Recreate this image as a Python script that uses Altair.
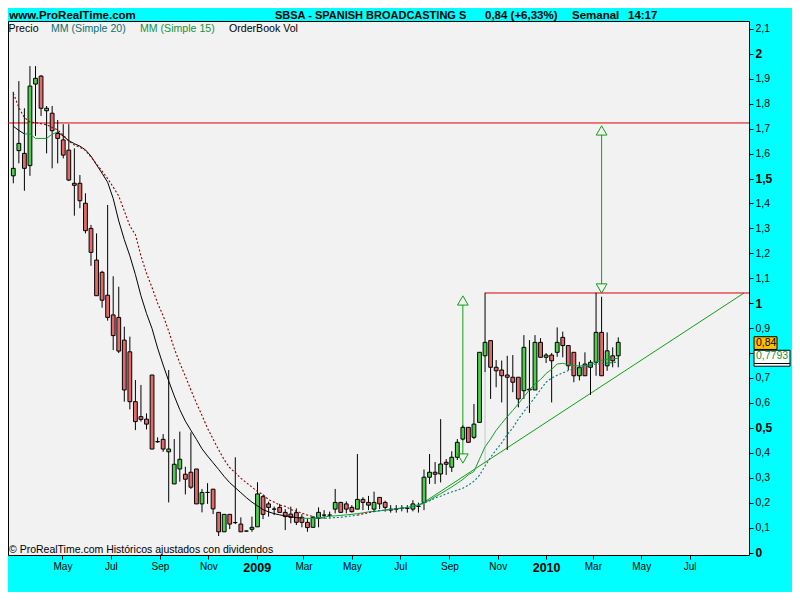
import altair as alt
import pandas as pd

FONT = "Liberation Sans"
W, H = 741, 534

# ---------------------------------------------------------------- data
first_week = "2008-02-29"   # weekly candles (one per week)

opens = [1.511, 1.612, 1.601, 1.552, 1.879, 1.911, 1.772, 1.762, 1.681, 1.655,
         1.614, 1.481, 1.481, 1.401, 1.300, 1.173, 1.124, 1.032, 0.953, 0.943,
         0.852, 0.805, 0.605, 0.545, 0.535, 0.712, 0.445, 0.454, 0.404, 0.275,
         0.335, 0.314, 0.322, 0.335, 0.195, 0.241, 0.254, 0.161, 0.083, 0.153,
         0.120, 0.114, 0.086, 0.093, 0.103, 0.224, 0.195, 0.174, 0.181, 0.161,
         0.154, 0.160, 0.141, 0.121, 0.101, 0.137, 0.150, 0.150, 0.174, 0.201,
         0.195, 0.181, 0.174, 0.213, 0.201, 0.174, 0.221, 0.201, 0.174, 0.174,
         0.177, 0.177, 0.174, 0.185, 0.201, 0.302, 0.322, 0.315, 0.362, 0.342,
         0.382, 0.455, 0.502, 0.462, 0.522, 0.789, 0.850, 0.743, 0.732, 0.712,
         0.703, 0.703, 0.649, 0.652, 0.652, 0.843, 0.783, 0.792, 0.803, 0.863,
         0.830, 0.803, 0.709, 0.756, 0.743, 0.763, 0.883, 0.749, 0.789, 0.789]
highs = [1.848, 1.891, 1.782, 1.951, 1.951, 1.915, 1.791, 1.791, 1.735, 1.718,
         1.718, 1.621, 1.514, 1.441, 1.314, 1.280, 1.130, 1.394, 1.108, 1.066,
         0.906, 0.866, 0.692, 0.672, 0.558, 0.712, 0.462, 0.475, 0.732, 0.455,
         0.485, 0.344, 0.482, 0.335, 0.255, 0.278, 0.254, 0.161, 0.153, 0.153,
         0.382, 0.141, 0.088, 0.144, 0.282, 0.231, 0.204, 0.184, 0.195, 0.174,
         0.184, 0.177, 0.154, 0.137, 0.147, 0.181, 0.170, 0.164, 0.255, 0.203,
         0.205, 0.190, 0.395, 0.222, 0.227, 0.244, 0.221, 0.208, 0.190, 0.190,
         0.190, 0.190, 0.210, 0.200, 0.333, 0.395, 0.363, 0.535, 0.375, 0.406,
         0.455, 0.510, 0.502, 0.596, 0.803, 1.042, 0.850, 0.772, 0.770, 0.789,
         0.792, 0.703, 0.872, 0.852, 0.872, 0.860, 0.800, 0.800, 0.903, 0.886,
         0.830, 0.803, 0.765, 0.803, 0.772, 1.042, 1.026, 0.883, 0.823, 0.863]
lows = [1.481, 1.561, 1.451, 1.511, 1.671, 1.751, 1.601, 1.541, 1.561, 1.581,
        1.490, 1.351, 1.381, 1.280, 1.150, 1.030, 0.982, 0.930, 0.812, 0.800,
        0.605, 0.574, 0.491, 0.525, 0.494, 0.415, 0.440, 0.404, 0.201, 0.275,
        0.284, 0.233, 0.255, 0.195, 0.161, 0.195, 0.154, 0.066, 0.083, 0.094,
        0.114, 0.083, 0.086, 0.083, 0.103, 0.134, 0.144, 0.150, 0.161, 0.090,
        0.117, 0.110, 0.101, 0.083, 0.101, 0.101, 0.135, 0.140, 0.157, 0.161,
        0.157, 0.160, 0.174, 0.170, 0.170, 0.164, 0.174, 0.164, 0.160, 0.160,
        0.165, 0.160, 0.165, 0.160, 0.170, 0.275, 0.275, 0.281, 0.311, 0.323,
        0.371, 0.450, 0.442, 0.455, 0.522, 0.723, 0.616, 0.663, 0.602, 0.411,
        0.643, 0.582, 0.616, 0.560, 0.652, 0.783, 0.760, 0.602, 0.785, 0.783,
        0.732, 0.683, 0.690, 0.709, 0.632, 0.709, 0.709, 0.729, 0.743, 0.743]
closes = [1.541, 1.641, 1.541, 1.871, 1.902, 1.782, 1.782, 1.692, 1.661, 1.594,
          1.494, 1.473, 1.411, 1.291, 1.204, 1.030, 1.012, 0.943, 0.870, 0.808,
          0.652, 0.605, 0.525, 0.534, 0.515, 0.415, 0.444, 0.415, 0.415, 0.354,
          0.374, 0.294, 0.262, 0.195, 0.241, 0.241, 0.175, 0.083, 0.153, 0.114,
          0.120, 0.083, 0.086, 0.101, 0.235, 0.153, 0.181, 0.174, 0.161, 0.144,
          0.141, 0.121, 0.121, 0.100, 0.141, 0.161, 0.150, 0.150, 0.201, 0.161,
          0.174, 0.164, 0.213, 0.201, 0.190, 0.201, 0.195, 0.181, 0.170, 0.174,
          0.177, 0.177, 0.195, 0.185, 0.302, 0.322, 0.314, 0.355, 0.354, 0.382,
          0.442, 0.502, 0.442, 0.515, 0.803, 0.843, 0.743, 0.729, 0.709, 0.703,
          0.683, 0.616, 0.823, 0.655, 0.843, 0.783, 0.792, 0.769, 0.843, 0.830,
          0.749, 0.709, 0.743, 0.709, 0.763, 0.883, 0.709, 0.809, 0.769, 0.843]

ma15 = [1.710, 1.693, 1.679, 1.679, 1.661, 1.661, 1.661, 1.678, 1.687, 1.670,
        1.652, 1.640, 1.630, 1.615, 1.590, 1.555, 1.521, 1.485, 1.420, 1.330,
        1.255, 1.190, 1.115, 1.030, 0.959, 0.898, 0.820, 0.752, 0.688, 0.628,
        0.573, 0.527, 0.490, 0.454, 0.416, 0.387, 0.360, 0.333, 0.305, 0.280,
        0.260, 0.240, 0.220, 0.202, 0.187, 0.172, 0.163, 0.156, 0.151, 0.147,
        0.143, 0.140, 0.138, 0.137, 0.137, 0.139, 0.142, 0.146, 0.147, 0.149,
        0.151, 0.153, 0.156, 0.159, 0.163, 0.165, 0.167, 0.170, 0.173, 0.175,
        0.178, 0.181, 0.185, 0.192, 0.200, 0.210, 0.224, 0.236, 0.249, 0.263,
        0.278, 0.293, 0.312, 0.325, 0.375, 0.424, 0.455, 0.490, 0.518, 0.545,
        0.570, 0.596, 0.625, 0.652, 0.676, 0.694, 0.718, 0.735, 0.756, 0.759,
        0.753, 0.750, 0.748, 0.750, 0.752, 0.765, 0.771, 0.775, 0.777, 0.779]
ma20 = [1.842, 1.785, 1.745, 1.727, 1.724, 1.720, 1.716, 1.705, 1.695, 1.675,
        1.650, 1.635, 1.625, 1.613, 1.587, 1.558, 1.530, 1.500, 1.466, 1.430,
        1.370, 1.310, 1.275, 1.190, 1.120, 1.063, 1.000, 0.950, 0.888, 0.818,
        0.760, 0.707, 0.652, 0.599, 0.550, 0.498, 0.455, 0.412, 0.372, 0.340,
        0.320, 0.298, 0.280, 0.262, 0.245, 0.232, 0.212, 0.202, 0.190, 0.185,
        0.173, 0.165, 0.158, 0.150, 0.144, 0.140, 0.137, 0.138, 0.140, 0.141,
        0.144, 0.147, 0.150, 0.155, 0.160, 0.164, 0.168, 0.170, 0.173, 0.176,
        0.178, 0.181, 0.184, 0.190, 0.198, 0.207, 0.219, 0.226, 0.235, 0.243,
        0.250, 0.258, 0.270, 0.286, 0.310, 0.347, 0.382, 0.412, 0.440, 0.473,
        0.500, 0.535, 0.565, 0.594, 0.623, 0.654, 0.683, 0.700, 0.711, 0.720,
        0.730, 0.736, 0.740, 0.745, 0.750, 0.756, 0.757, 0.759, 0.762, 0.765]

# price above (up) / below (dn) the average -> colour of the average
ma15_segments = [(0, 2, "15dn"), (2, 8, "15up"), (8, 52, "15dn"), (52, 109, "15up")]
ma20_segments = [(0, 54, "20dn"), (54, 62, "20up"), (62, 65, "20dn"), (65, 109, "20up")]

resistance_full = [1.723]
resistance_part = [1.041]
resistance_part_start = [85]          # candle index
trend_start_idx = [73]
trend_values = [0.187, 1.041]
trend_end = ["2010-09-07T14:24:00Z"]
marker_idx = [85]
marker_range = [0.351, 0.720]
arrow_idx = [81, 106]
arrow_low = [0.359, 1.041]
arrow_high = [1.029, 1.711]

tick_months = [(2008, 5), (2008, 7), (2008, 9), (2008, 11), (2009, 1), (2009, 3),
               (2009, 5), (2009, 7), (2009, 9), (2009, 11), (2010, 1), (2010, 3),
               (2010, 5), (2010, 7)]
y_ticks = [round(0.1 * k, 1) for k in range(22)]

title_left = "www.ProRealTime.com"
title_parts = ["SBSA - SPANISH BROADCASTING S", "0,84 (+6,33%)", "Semanal", "14:17"]
legend_items = ["Precio", "MM (Simple 20)", "MM (Simple 15)", "OrderBook Vol"]
footer_text = "© ProRealTime.com  Históricos ajustados con dividendos"
tag_values = [0.84, 0.7793]
tag_texts = ["0,84", "0,7793"]

# ---------------------------------------------------------------- frames
dates = [(pd.Timestamp(first_week) + pd.Timedelta(days=7 * i)).strftime("%Y-%m-%d")
         for i in range(len(opens))]
candles = pd.DataFrame({"date": dates, "open": opens, "high": highs,
                        "low": lows, "close": closes})
candles["dir"] = ["up" if c >= o else "down" for o, c in zip(opens, closes)]

ma_rows = []
for series, segs in ((ma15, ma15_segments), (ma20, ma20_segments)):
    for k, (a, b, state) in enumerate(segs):
        for i in range(a, b + 1):
            ma_rows.append({"date": dates[i], "v": series[i],
                            "seg": f"{state}_{k}", "state": state})
ma_df = pd.DataFrame(ma_rows)
ma15_df = ma_df[ma_df.state.str.startswith("15")]
ma20_df = ma_df[ma_df.state.str.startswith("20")]

TRI = 0.018   # half height of arrow heads (value units)
arrows = pd.DataFrame({"date": [dates[i] for i in arrow_idx],
                       "lo": arrow_low, "hi": arrow_high})
arrows["lo_base"] = arrows.lo + 2 * TRI
arrows["hi_base"] = arrows.hi - 2 * TRI
arrows["lo_c"] = arrows.lo + TRI
arrows["hi_c"] = arrows.hi - TRI

# ---------------------------------------------------------------- scales / axes
xscale = alt.Scale(type="utc", domain=[
    alt.DateTime(year=2008, month=2, date=28, hours=15, utc=True),
    alt.DateTime(year=2010, month=9, date=7, hours=14, minutes=24, utc=True)])
yscale = alt.Scale(domain=[-0.010, 2.132], nice=False, zero=False)

BOLD_Y = "abs(datum.value*2 - round(datum.value*2)) < 0.01"
xaxis = alt.Axis(
    values=[alt.DateTime(year=y, month=m, date=1, utc=True) for y, m in tick_months],
    labelExpr="utcmonth(datum.value) == 0 ? utcFormat(datum.value, '%Y') : utcFormat(datum.value, '%b')",
    labelFont=FONT, labelColor="black",
    labelFontSize={"condition": {"test": "utcmonth(datum.value) == 0", "value": 12.5}, "value": 10},
    labelFontWeight={"condition": {"test": "utcmonth(datum.value) == 0", "value": "bold"}, "value": "normal"},
    tickSize=4, tickColor="black", tickWidth=1, labelPadding=2, domain=False, grid=False,
    title=None, labelFlush=False, labelOverlap=False)
yaxis = alt.Axis(
    orient="right", values=y_ticks,
    labelExpr="abs(datum.value - 0.8) < 0.001 ? '' : replace(format(datum.value, '.1~f'), '.', ',')",
    labelFont=FONT, labelColor="black",
    labelFontSize={"condition": {"test": BOLD_Y, "value": 12}, "value": 10.5},
    labelFontWeight={"condition": {"test": BOLD_Y, "value": "bold"}, "value": "normal"},
    tickSize=4, tickColor="black", tickWidth=1, labelPadding=2, domain=False, grid=False,
    title=None, labelOverlap=False, labelFlush=False)


def X(field="date"):
    return alt.X(f"{field}:T", scale=xscale, axis=xaxis, title=None)


def Y(field):
    return alt.Y(f"{field}:Q", scale=yscale, axis=yaxis, title=None)


GREEN_ARROW = "#12a012"
RED_LINE = "#dd0000"

# ---------------------------------------------------------------- layers
marker = alt.Chart(pd.DataFrame({"date": [dates[i] for i in marker_idx],
                                 "a": [marker_range[0]], "b": [marker_range[1]]})).mark_rule(
    color="#c8c8c8", strokeWidth=1).encode(x=X(), y=Y("a"), y2="b:Q")

trend = alt.Chart(pd.DataFrame({"date": [dates[trend_start_idx[0]], trend_end[0]],
                                "v": trend_values})).mark_line(
    color="#10a010", strokeWidth=1).encode(x=X(), y=Y("v"))

res_full = alt.Chart(pd.DataFrame({"v": resistance_full})).mark_rule(
    color=RED_LINE, strokeWidth=1).encode(y=Y("v"))
res_part = alt.Chart(pd.DataFrame({"date": [dates[i] for i in resistance_part_start],
                                   "v": resistance_part})).mark_rule(
    color=RED_LINE, strokeWidth=1).encode(x=X(), x2=alt.value(W), y=Y("v"))

arrow_lines = alt.Chart(arrows).mark_rule(color=GREEN_ARROW, strokeWidth=1).encode(
    x=X(), y=Y("lo_base"), y2="hi_base:Q")
arrow_up = alt.Chart(arrows).mark_point(shape="triangle-up", size=115, filled=False,
                                        color=GREEN_ARROW, strokeWidth=1, opacity=1).encode(
    x=X(), y=Y("hi_c"))
arrow_dn = alt.Chart(arrows).mark_point(shape="triangle-down", size=115, filled=False,
                                        color=GREEN_ARROW, strokeWidth=1, opacity=1).encode(
    x=X(), y=Y("lo_c"))

wicks = alt.Chart(candles).mark_rule(color="black", strokeWidth=1).encode(
    x=X(), y=Y("low"), y2="high:Q")
bodies = alt.Chart(candles).mark_bar(size=3.8, stroke="black", strokeWidth=1).encode(
    x=X(), y=Y("open"), y2="close:Q",
    fill=alt.Fill("dir:N", scale=alt.Scale(domain=["up", "down"],
                                           range=["#4dcc4d", "#e06a6a"]), legend=None))

ma_scale = alt.Scale(domain=["15up", "15dn", "20up", "20dn"],
                     range=["#10a030", "#000000", "#007b7b", "#8b0000"])
line15 = alt.Chart(ma15_df).mark_line(strokeWidth=1).encode(
    x=X(), y=Y("v"), detail="seg:N",
    stroke=alt.Stroke("state:N", scale=ma_scale, legend=None))
line20 = alt.Chart(ma20_df).mark_line(strokeWidth=1.1, strokeDash=[2, 2]).encode(
    x=X(), y=Y("v"), detail="seg:N",
    stroke=alt.Stroke("state:N", scale=ma_scale, legend=None))


def text_layer(txt, x, y, size=11, weight="normal", color="black", baseline="alphabetic"):
    return alt.Chart(pd.DataFrame({"t": [txt]})).mark_text(
        font=FONT, fontSize=size, fontWeight=weight, color=color, align="left",
        baseline=baseline).encode(x=alt.value(x), y=alt.value(y), text="t:N")


TY = -2.0
LY = 10.5
texts = [
    text_layer(title_left, 1.3, TY, size=11.5, weight="bold"),
    text_layer(title_parts[0], 267, TY, size=11, weight="bold"),
    text_layer(title_parts[1], 477, TY, size=11.5, weight="bold"),
    text_layer(title_parts[2], 564, TY, size=11.5, weight="bold"),
    text_layer(title_parts[3], 620, TY, size=11.5, weight="bold"),
    text_layer(legend_items[0], 0.5, LY, size=10.6),
    text_layer(legend_items[1], 43, LY, size=10.6, color="#0a7070"),
    text_layer(legend_items[2], 132, LY, size=10.6, color="#13933a"),
    text_layer(legend_items[3], 221, LY, size=10.6),
    text_layer(footer_text, 1, 531.5, size=10.5),
]

tags = pd.DataFrame({"v": tag_values, "t": tag_texts})
tag1 = alt.Chart(tags.iloc[[0]]).transform_calculate(
    top="datum.v + 0.0255", bot="datum.v - 0.0255").mark_rect(
    fill="#ffbf00", stroke="black", strokeWidth=1).encode(
    x=alt.value(W + 5), x2=alt.value(W + 28), y=Y("top"), y2="bot:Q")
tag2 = alt.Chart(tags.iloc[[1]]).transform_calculate(
    top="datum.v + 0.032", bot="datum.v - 0.032").mark_rect(
    fill="white", stroke="black", strokeWidth=1).encode(
    x=alt.value(W + 5), x2=alt.value(W + 41), y=Y("top"), y2="bot:Q")
tag2_line = alt.Chart(tags.iloc[[1]]).mark_rule(color="black", strokeWidth=1, yOffset=5.3).encode(
    x=alt.value(W + 5), x2=alt.value(W + 41), y=Y("v"))
tag1_text = alt.Chart(tags.iloc[[0]]).mark_text(
    font=FONT, fontSize=10.5, color="black", align="left", baseline="middle").encode(
    x=alt.value(W + 7), y=Y("v"), text="t:N")
tag2_text = alt.Chart(tags.iloc[[1]]).mark_text(
    font=FONT, fontSize=10.5, color="#13933a", align="left", baseline="middle", dy=-2).encode(
    x=alt.value(W + 7), y=Y("v"), text="t:N")

chart = alt.layer(
    marker, trend, res_full, res_part, arrow_lines, wicks, bodies, line15, line20,
    arrow_up, arrow_dn, *texts, tag1, tag2, tag2_line, tag1_text, tag2_text
).properties(
    width=W, height=H,
    padding={"left": 0, "top": 13, "right": 43, "bottom": 37},
    autosize=alt.AutoSizeParams(type="none"),
    background="#00ffff",
).configure_view(fill="#f2f2f2", stroke="black", strokeWidth=1)

chart.save("out.html", embed_options={"renderer": "svg", "actions": False})
